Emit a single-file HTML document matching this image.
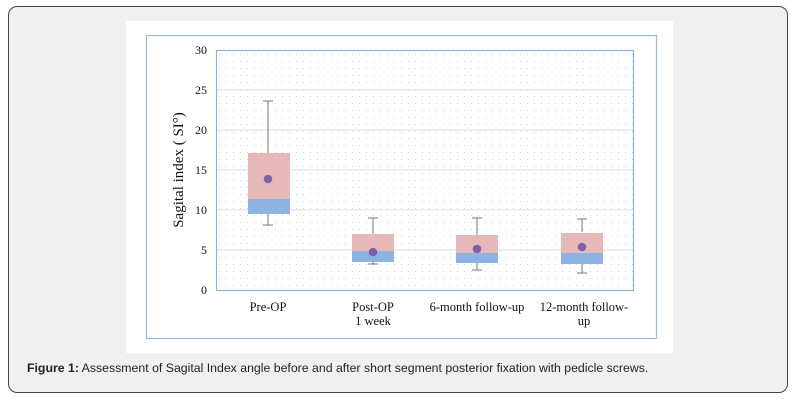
<!DOCTYPE html>
<html><head><meta charset="utf-8"><style>
body{margin:0;width:796px;height:401px;background:#fff;position:relative;overflow:hidden}
.card{position:absolute;left:8px;top:6px;width:778px;height:385px;border:1px solid #444;border-radius:9px;background:#f0f0f0}
.cap{position:absolute;left:27px;top:361px;font:12.3px "Liberation Sans",Arial,sans-serif;color:#222}
</style></head><body>
<div class="card"></div>
<svg style="position:absolute;left:0;top:0" width="796" height="401">
<defs><pattern id="d" width="7" height="7" patternUnits="userSpaceOnUse" x="216" y="51"><rect x="3" y="3" width="1" height="1" fill="#c8d5e8"/></pattern></defs>
<rect x="126" y="21" width="547" height="332" fill="#fff"/>
<rect x="146.5" y="35.5" width="510" height="303" fill="none" stroke="#9ab7de" stroke-width="1.2"/>
<rect x="216" y="50" width="418" height="240" fill="url(#d)"/>
<g stroke="#dcdcdc" stroke-width="1">
<line x1="216" x2="634" y1="90" y2="90"/><line x1="216" x2="634" y1="130" y2="130"/><line x1="216" x2="634" y1="170" y2="170"/><line x1="216" x2="634" y1="210" y2="210"/><line x1="216" x2="634" y1="250" y2="250"/></g>
<rect x="216.5" y="50.5" width="417" height="240" fill="none" stroke="#8eb0dc" stroke-width="1.2"/>
<g font-family="Liberation Serif,serif" font-size="12" fill="#111" text-anchor="end">
<text x="207" y="54">30</text><text x="207" y="94">25</text><text x="207" y="134">20</text><text x="207" y="174">15</text><text x="207" y="214">10</text><text x="207" y="254">5</text><text x="207" y="294">0</text></g>
<text transform="translate(183,170) rotate(-90)" text-anchor="middle" font-family="Liberation Serif,serif" font-size="15" fill="#111">Sagital index ( SI°)</text>
<g font-family="Liberation Serif,serif" font-size="12.5" fill="#111" text-anchor="middle">
<text x="268" y="311">Pre-OP</text><text x="373" y="311">Post-OP</text><text x="373" y="325">1 week</text>
<text x="477" y="311">6-month follow-up</text><text x="584" y="311">12-month follow-</text><text x="584" y="325">up</text></g>
<g stroke="#777" stroke-width="1">
<line x1="268" x2="268" y1="101" y2="153"/><line x1="263" x2="273" y1="101" y2="101"/><line x1="268" x2="268" y1="213" y2="225"/><line x1="263" x2="273" y1="225" y2="225"/>
<line x1="373" x2="373" y1="218" y2="234"/><line x1="368" x2="378" y1="218" y2="218"/><line x1="373" x2="373" y1="261" y2="264"/><line x1="368" x2="378" y1="264" y2="264"/>
<line x1="477" x2="477" y1="218" y2="235"/><line x1="472" x2="482" y1="218" y2="218"/><line x1="477" x2="477" y1="262" y2="270"/><line x1="472" x2="482" y1="270" y2="270"/>
<line x1="582" x2="582" y1="219" y2="232"/><line x1="577" x2="587" y1="219" y2="219"/><line x1="582" x2="582" y1="263" y2="273"/><line x1="577" x2="587" y1="273" y2="273"/></g>
<g>
<rect x="248" y="153" width="42" height="46" fill="#e6b9b8"/><rect x="248" y="199" width="42" height="15" fill="#8db3e2"/>
<rect x="352" y="234" width="42" height="17" fill="#e6b9b8"/><rect x="352" y="251" width="42" height="11" fill="#8db3e2"/>
<rect x="456" y="235" width="42" height="18" fill="#e6b9b8"/><rect x="456" y="253" width="42" height="10" fill="#8db3e2"/>
<rect x="561" y="233" width="42" height="20" fill="#e6b9b8"/><rect x="561" y="253" width="42" height="11" fill="#8db3e2"/></g>
<g fill="#7d60a8"><circle cx="268" cy="179" r="4.3"/><circle cx="373" cy="252" r="4.3"/><circle cx="477" cy="249" r="4.3"/><circle cx="582" cy="247" r="4.3"/></g>
</svg>
<div class="cap"><b>Figure 1:</b> Assessment of Sagital Index angle before and after short segment posterior fixation with pedicle screws.</div>
</body></html>
